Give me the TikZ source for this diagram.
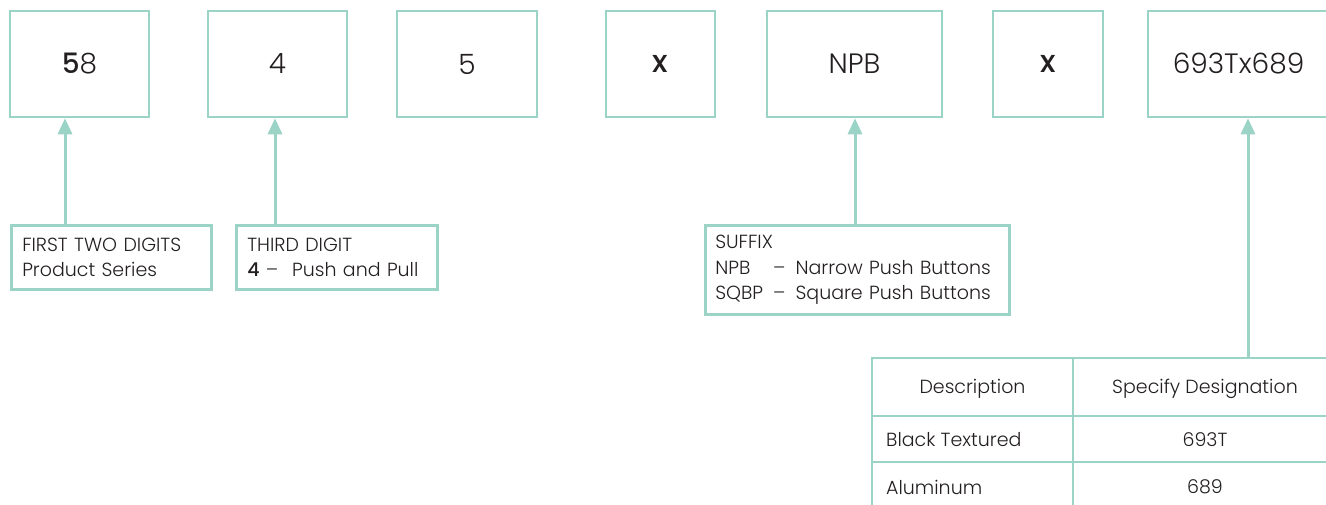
\documentclass[tikz,border=0pt]{standalone}
\usepackage{fontspec}
\setmainfont{Poppins}[UprightFont=* Light, BoldFont=* Medium]
\usepackage{xcolor}
\usetikzlibrary{arrows.meta,positioning}
\definecolor{ColorLine}{HTML}{9BD3C6}
\definecolor{ColorText}{HTML}{231F20}
\tikzset{
    codebox/.style={draw=ColorLine, line width=2.5pt, minimum height=106pt, inner sep=0pt,
        text=ColorText, font=\fontsize{28}{32}\selectfont},
    notebox/.style={draw=ColorLine, line width=2.5pt, anchor=north west, align=left,
        inner xsep=11pt, inner ysep=0pt, text=ColorText, font=\fontsize{19}{25.5}\selectfont},
    pointer/.style={draw=ColorLine, line width=3pt, -{Triangle[width=14pt,length=16pt]}},
    tblline/.style={draw=ColorLine, line width=2pt},
    tbltext/.style={text=ColorText, inner sep=0pt, font=\fontsize{19}{23}\selectfont},
}

\begin{document}
\begin{tikzpicture}[x=1pt,y=-1pt]
        \useasboundingbox (0,0) rectangle (1326,504);
        %Ma so
        \node[codebox, minimum width=139pt] (b1) at (79.5,64) {{\bfseries 5}8};
        \node[codebox, minimum width=139pt] (b2) at (277.5,64) {4};
        \node[codebox, minimum width=140pt] (b3) at (467,64) {5};
        \node[codebox, minimum width=109pt] (b4) at (660.5,64) {\bfseries\fontsize{31}{34}\selectfont\raisebox{-3pt}{x}};
        \node[codebox, minimum width=175pt] (b5) at (854.5,64) {NPB};
        \node[codebox, minimum width=110pt] (b6) at (1048,64) {\bfseries\fontsize{31}{34}\selectfont\raisebox{-3pt}{x}};
        \node[codebox, minimum width=181pt] (b7) at (1238.5,64) {693Tx689};
        %Ghi chu
        \node[notebox, text width=178pt, minimum height=64pt] (na) at (10,224)
            {FIRST TWO DIGITS\\Product Series};
        \node[notebox, text width=179pt, minimum height=64pt] (nb) at (235,224)
            {THIRD DIGIT\\{\bfseries 4} --\hspace{14pt}Push and Pull};
        \node[notebox, text width=284pt, minimum height=89pt, inner xsep=10pt] (ns) at (704,224)
            {\mbox{SUFFIX}\\
             \mbox{\makebox[58pt][l]{NPB}--\hspace{10pt}Narrow Push Buttons}\\
             \mbox{\makebox[58pt][l]{SQBP}--\hspace{10pt}Square Push Buttons}};
        %Bang
        \draw[tblline] (872,510) -- (872,358) -- (1340,358);
        \draw[tblline] (872,416) -- (1340,416);
        \draw[tblline] (872,462) -- (1340,462);
        \draw[tblline] (1073,358) -- (1073,510);
        \node[tbltext] (th1) at (972.5,389) {Description};
        \node[tbltext] (th2) at (1205,389) {Specify Designation};
        \node[tbltext, anchor=west] (tr1) at (886,440) {Black Textured};
        \node[tbltext] (tv1) at (1205,440) {693T};
        \node[tbltext, anchor=west] (tr2) at (886,487) {Aluminum};
        \node[tbltext] (tv2) at (1205,487) {689};
        %Mui ten
        \coordinate (pa) at (65,224);
        \coordinate (pb) at (275,224);
        \coordinate (ps) at (855,224);
        \coordinate (pt) at (1248,358);
        \draw[pointer] (pa) -- (pa |- b1.south);
        \draw[pointer] (pb) -- (pb |- b2.south);
        \draw[pointer] (ps) -- (ps |- b5.south);
        \draw[pointer] (pt) -- (pt |- b7.south);
\end{tikzpicture}
\end{document}
